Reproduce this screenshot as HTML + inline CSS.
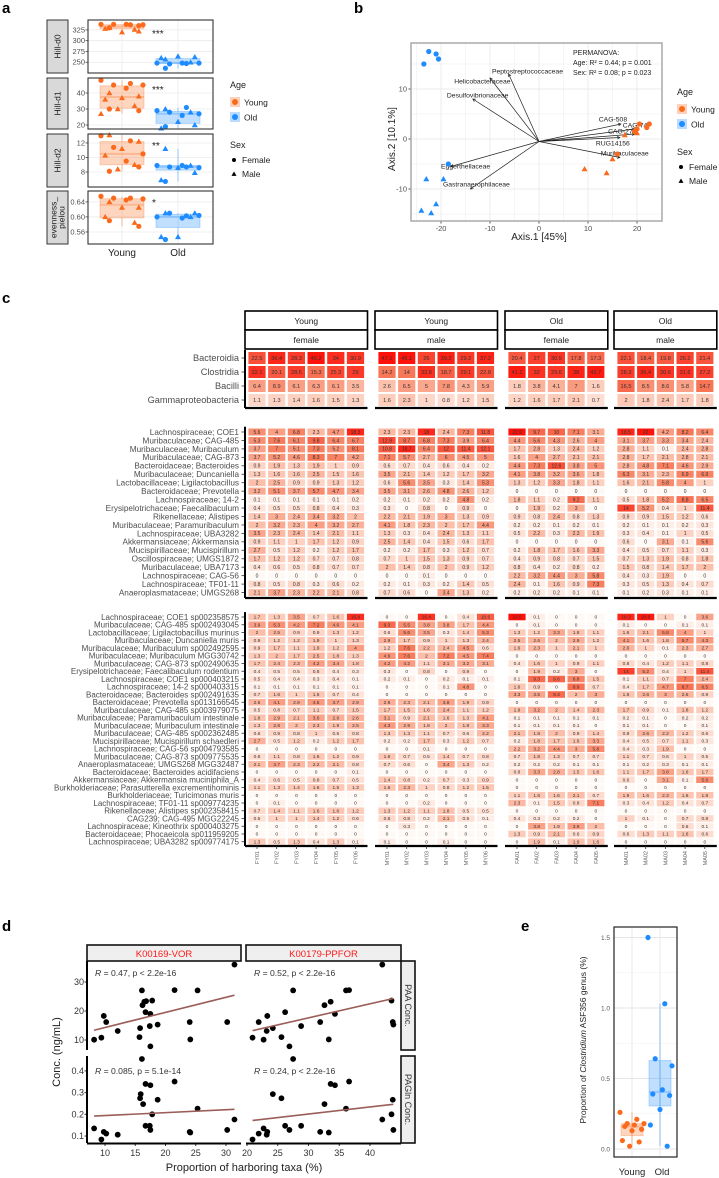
<!DOCTYPE html>
<html><head><meta charset="utf-8">
<style>
html,body{margin:0;padding:0;background:#fff;}
svg{display:block;font-family:"Liberation Sans",Arial,sans-serif;}
</style></head>
<body>
<svg id="fig" width="719" height="1178" viewBox="0 0 719 1178" xmlns="http://www.w3.org/2000/svg">
<rect x="0" y="0" width="719" height="1178" fill="#fff"/>
<text x="2" y="13" font-size="15" font-weight="bold">a</text>
<text x="354" y="13" font-size="15" font-weight="bold">b</text>
<text x="2" y="303" font-size="15" font-weight="bold">c</text>
<text x="2" y="931" font-size="15" font-weight="bold">d</text>
<text x="521" y="931" font-size="15" font-weight="bold">e</text>
</svg>
<script>
const NS='http://www.w3.org/2000/svg';
const svg=document.getElementById('fig');
function mk(tag,attrs,parent){const e=document.createElementNS(NS,tag);for(const k in attrs)e.setAttribute(k,attrs[k]);(parent||svg).appendChild(e);return e;}
function txt(x,y,s,attrs,parent){const e=mk('text',Object.assign({x:x,y:y},attrs||{}),parent);e.textContent=s;return e;}
const OR='#fb6a1c', BL='#1e8cff';
function tri(x,y,s,fill,parent){return mk('polygon',{points:(x)+','+(y-s)+' '+(x-s)+','+(y+s*0.75)+' '+(x+s)+','+(y+s*0.75),fill:fill},parent);}
function jit(i){return (((i*7)%11)/10-0.5);}
function quant(arr,p){const s=arr.slice().sort((a,b)=>a-b);const h=(s.length-1)*p;const lo=Math.floor(h);return s[lo]+(h-lo)*((s[Math.min(lo+1,s.length-1)])-s[lo]);}

/* ================= PANEL A data ================= */
const aFacetNames=['Hill-d0','Hill-d1','Hill-d2','evenness_\npielou'];
const aTicks=[[250,275,300,325],[20,30,40],[8,10,12],[0.56,0.60,0.64]];
const aTickLabels=[['250','275','300','325'],['20','30','40'],['8','10','12'],['0.56','0.60','0.64']];
const aStars=['***','***','**','*'];
const d0YoungF=[338,337,338,337,338,330,335], d0YoungM=[330,322,320,328,326], d0OldF=[248,247,246,248,248,236], d0OldM=[257,262,264,260,250];
const d1YoungF=[48,46,45,45,43,30,29], d1YoungM=[40,38,37,36,32,30,27], d1OldF=[29,31,28,27,26,19], d1OldM=[30,20,22,18,28];
const d2YoungF=[13,12.3,11.4,10.5,9.5,8.1,8.7], d2YoungM=[13.1,12.2,11.2,10.3,9,8.4], d2OldF=[8.9,8.7,8.7,8.6,8.9,6.7], d2OldM=[11.2,7.9,8.6,6.9,8.9];
const evYoungF=[0.655,0.65,0.65,0.648,0.645,0.59,0.575], evYoungM=[0.64,0.625,0.625,0.60,0.585], evOldF=[0.600,0.603,0.61,0.604,0.597,0.54], evOldM=[0.61,0.61,0.547,0.547,0.60];
const aData=[[d0YoungF,d0YoungM,d0OldF,d0OldM],[d1YoungF,d1YoungM,d1OldF,d1OldM],[d2YoungF,d2YoungM,d2OldF,d2OldM],[evYoungF,evYoungM,evOldF,evOldM]];
const aTop=[20,78,134,191], aBot=[73,129,187,244];
const aDomain=[[225,348],[17.5,49.4],[5.93,13.24],[0.528,0.669]];
(function(){
  const L=88,R=213, cx=[122,178];
  for(let f=0;f<4;f++){
    const g=mk('g',{});
    
    
    const t=aTop[f],b=aBot[f],dm=aDomain[f];
    const ys=v=>b-(v-dm[0])/(dm[1]-dm[0])*(b-t);
    mk('rect',{x:L,y:t,width:R-L,height:b-t,fill:'#fff'},g);
    aTicks[f].forEach((v,i)=>{
      mk('line',{x1:L,x2:R,y1:ys(v),y2:ys(v),stroke:'#ebebeb','stroke-width':0.8},g);
      const lb=txt(85,ys(v)+2.5,aTickLabels[f][i],{'font-size':7.5,fill:'#4d4d4d','text-anchor':'end'},g);
      
      mk('line',{x1:85.5,x2:L,y1:ys(v),y2:ys(v),stroke:'#333','stroke-width':0.7},g);
    });
    cx.forEach(x=>mk('line',{x1:x,x2:x,y1:t,y2:b,stroke:'#ebebeb','stroke-width':0.8},g));
    const st=mk('rect',{x:47,y:t,width:21,height:b-t,fill:'#d9d9d9',stroke:'#333','stroke-width':1},g);
    
    const parts=aFacetNames[f].split('\n');
    const midY=(t+b)/2;
    parts.forEach((p,pi)=>{
      const off=parts.length===1?3:(pi===0?-1:7);
      const s=txt(57.5+off,midY,p,{'font-size':8.5,fill:'#1a1a1a','text-anchor':'middle',transform:'rotate(-90 '+(57.5+off)+' '+midY+')'},g);
      
    });
    for(let grp=0;grp<2;grp++){
      const all=aData[f][grp*2].concat(aData[f][grp*2+1]);
      const col=grp===0?OR:BL, fill=grp===0?'rgba(251,106,28,0.28)':'rgba(30,140,255,0.28)';
      const q1=quant(all,0.25),q2=quant(all,0.5),q3=quant(all,0.75);
      const bx=mk('rect',{x:cx[grp]-22,y:ys(q3),width:44,height:ys(q1)-ys(q3),fill:fill,stroke:fill,'stroke-width':1},g);
      
      mk('line',{x1:cx[grp]-22,x2:cx[grp]+22,y1:ys(q2),y2:ys(q2),stroke:fill,'stroke-width':2},g);
      mk('line',{x1:cx[grp],x2:cx[grp],y1:ys(Math.max(...all)),y2:ys(q3),stroke:fill,'stroke-width':1.5},g);
      mk('line',{x1:cx[grp],x2:cx[grp],y1:ys(q1),y2:ys(Math.min(...all)),stroke:fill,'stroke-width':1.5},g);
      [0,1].forEach(sx=>{
        aData[f][grp*2+sx].forEach((v,i)=>{
          const x=cx[grp]+jit(i+sx*5)*42;
          let p;
          if(sx===0){p=mk('circle',{cx:x,cy:ys(v),r:2.6,fill:col},g);}
          else{p=tri(x,ys(v),3,col,g);}
          
        });
      });
    }
    const star=txt(152,t+ (f===0?17:15),aStars[f],{'font-size':10,fill:'#222'},g);
    
    mk('rect',{x:L,y:t,width:R-L,height:b-t,fill:'none',stroke:'#333','stroke-width':1.1},g);
  }
  const xl1=txt(122,256,'Young',{'font-size':10,'text-anchor':'middle',fill:'#222'});
  
  const xl2=txt(178,256,'Old',{'font-size':10,'text-anchor':'middle',fill:'#222'});
  
})();

/* legends a & b */
function legend(x,name){
  const g=mk('g',{});
  
  
  return g;
}
(function(){
  [[230,88,'legend-a'],[677,95,'legend-b']].forEach(([x,y,n])=>{
    const g=legend(x,n);
    txt(x,y,'Age',{'font-size':9,fill:'#222'},g);
    [['Young',OR,'rgba(251,106,28,0.3)'],['Old',BL,'rgba(30,140,255,0.3)']].forEach((k,i)=>{
      const yy=y+15+i*15;
      const r=mk('rect',{x:x,y:yy-6,width:10,height:10,fill:k[2]},g);
      
      mk('circle',{cx:x+5,cy:yy-1,r:3,fill:k[1]},g);
      txt(x+14,yy+2.5,k[0],{'font-size':8.5,fill:'#222'},g);
    });
    txt(x,y+60,'Sex',{'font-size':9,fill:'#222'},g);
    mk('circle',{cx:x+4,cy:y+72,r:2,fill:'#000'},g);
    txt(x+12,y+75,'Female',{'font-size':8.5,fill:'#222'},g);
    tri(x+4,y+86,2.5,'#000',g);
    txt(x+12,y+89,'Male',{'font-size':8.5,fill:'#222'},g);
  });
})();

/* ================= PANEL B ================= */
const bOldF=[[-22.5,17.5],[-21,17],[-20.5,16],[-23.5,15],[-18.5,-5]];
const bOldM=[[-23,-8],[-19.5,-8],[-21,-13],[-24,-14.3],[-22,-14.8]];
const bYoungF=[[20.5,3],[22.5,3],[22,2.3],[20,2],[16,-3],[19.5,1.5]];
const bYoungM=[[17.5,0.8],[20,1.2],[15,-4],[9.3,-6],[13.8,-6.8]];
const bArrowNames=['Peptostreptococcaceae','Helicobacteraceae','Desulfovibrionaceae','CAG-508','CAG-74','CAG-272','RUG14156','Muribaculaceae','Eggerthellaceae','Gastranaerophilaceae'];
const bArrowEnd=[[-6.2,13],[-10,12.2],[-13.5,8],[16.7,3],[19.5,2],[19.5,1],[16.5,0.3],[16.5,-3.7],[-18,-5.5],[-14,-10]];
const bLabelPos=[[-9.6,13.6],[-17.3,11.6],[-18.8,8.8],[12.2,4],[17.1,2.8],[14.1,1.6],[11.6,-0.8],[12.6,-2.8],[-20,-5.4],[-19.6,-9]];
const bXTicks=[-20,-10,0,10,20], bYTicks=[-10,0,10];
(function(){
  const g=mk('g',{});
  
  
  const xs=v=>539+4.9*v, ys=v=>139-5*v;
  const L=411,R=662,T=43,B=221;
  mk('rect',{x:L,y:T,width:R-L,height:B-T,fill:'#fff'},g);
  for(let v=-25;v<=25;v+=5){const x=xs(v);if(x>L&&x<R)mk('line',{x1:x,x2:x,y1:T,y2:B,stroke:'#ebebeb','stroke-width':bXTicks.includes(v)?0.9:0.5},g);}
  for(let v=-15;v<=15;v+=5){const y=ys(v);if(y>T&&y<B)mk('line',{x1:L,x2:R,y1:y,y2:y,stroke:'#ebebeb','stroke-width':bYTicks.includes(v)?0.9:0.5},g);}
  bXTicks.forEach(v=>{const l=txt(xs(v),231,String(v),{'font-size':7.5,fill:'#4d4d4d','text-anchor':'middle'},g);mk('line',{x1:xs(v),x2:xs(v),y1:B,y2:B+2.5,stroke:'#555'},g);});
  bYTicks.forEach(v=>{const l=txt(407,ys(v)+2.5,String(v),{'font-size':7.5,fill:'#4d4d4d','text-anchor':'end'},g);mk('line',{x1:L-2.5,x2:L,y1:ys(v),y2:ys(v),stroke:'#555'},g);});
  const xt=txt(539,240,'Axis.1   [45%]',{'font-size':10,fill:'#222','text-anchor':'middle'},g);
  
  const yt=txt(395,139,'Axis.2   [10.1%]',{'font-size':10,fill:'#222','text-anchor':'middle',transform:'rotate(-90 395 139)'},g);
  
  const ox=xs(0),oy=ys(-0.5);
  bArrowEnd.forEach((e,i)=>{
    const x2=xs(e[0]),y2=ys(e[1]);
    const ln=mk('line',{x1:ox,y1:oy,x2:x2,y2:y2,stroke:'#222','stroke-width':0.7},g);
    
    const a=Math.atan2(y2-oy,x2-ox),h=3;
    mk('polyline',{points:(x2-h*Math.cos(a-0.5))+','+(y2-h*Math.sin(a-0.5))+' '+x2+','+y2+' '+(x2-h*Math.cos(a+0.5))+','+(y2-h*Math.sin(a+0.5)),fill:'none',stroke:'#222','stroke-width':0.7},g);
    const lb=txt(xs(bLabelPos[i][0]),ys(bLabelPos[i][1])+2.5,bArrowNames[i],{'font-size':6.8,fill:'#222'},g);
    
  });
  bOldF.forEach(p=>{const c=mk('circle',{cx:xs(p[0]),cy:ys(p[1]),r:2.6,fill:BL},g);});
  bOldM.forEach(p=>{const c=tri(xs(p[0]),ys(p[1]),3,BL,g);});
  bYoungF.forEach(p=>{const c=mk('circle',{cx:xs(p[0]),cy:ys(p[1]),r:2.6,fill:OR},g);});
  bYoungM.forEach(p=>{const c=tri(xs(p[0]),ys(p[1]),3,OR,g);});
  ['PERMANOVA:','Age: R\u00b2 = 0.44; p = 0.001','Sex: R\u00b2 = 0.08; p = 0.023'].forEach((s,i)=>{const t=txt(573,55+i*10,s,{'font-size':7,fill:'#222'},g);});
  mk('rect',{x:L,y:T,width:R-L,height:B-T,fill:'none',stroke:'#aaa','stroke-width':1.5},g);
})();

/* ================= PANEL C heatmap ================= */
const hmGroupAge=['Young','Young','Old','Old'];
const hmGroupSex=['female','male','female','male'];
const hmGroupN=[6,6,5,5];
const hmSamples=['FY01','FY02','FY03','FY04','FY05','FY06','MY01','MY02','MY03','MY04','MY05','MY06','FA01','FA02','FA03','FA04','FA05','MA01','MA02','MA03','MA04','MA05'];
const hmTopLabels=['Bacteroidia','Clostridia','Bacilli','Gammaproteobacteria'];
const hmTopValues=[
[22.5,36.4,28.3,45.2,34,30.9,47.1,45.1,26,39.2,29.2,37.2,20.4,27,30.5,17.8,17.3,22.1,18.4,19.8,26.2,21.4],
[32.1,20.1,28.5,15.3,25.3,29,14.2,14,32.8,18.7,29.1,22.8,41.1,32,29.6,38,42.7,28.3,36.4,30.6,31.6,27.2],
[6.4,8.9,6.1,6.3,6.1,3.5,2.6,6.5,5,7.8,4.3,5.9,1.8,3.8,4.1,7,1.6,16.5,8.5,8.6,5.8,14.7],
[1.1,1.3,1.4,1.6,1.5,1.3,1.6,2.3,1,0.8,1.2,1.5,1.2,1.6,1.7,2.1,0.7,2,1.8,2.4,1.7,1.8]];
const hmGenusLabels=['Lachnospiraceae; COE1','Muribaculaceae; CAG-485','Muribaculaceae; Muribaculum','Muribaculaceae; CAG-873','Bacteroidaceae; Bacteroides','Muribaculaceae; Duncaniella','Lactobacillaceae; Ligilactobacillus','Bacteroidaceae; Prevotella','Lachnospiraceae; 14-2','Erysipelotrichaceae; Faecalibaculum','Rikenellaceae; Alistipes','Muribaculaceae; Paramuribaculum','Lachnospiraceae; UBA3282','Akkermansiaceae; Akkermansia','Mucispirillaceae; Mucispirillum','Oscillospiraceae; UMGS1872','Muribaculaceae; UBA7173','Lachnospiraceae; CAG-56','Lachnospiraceae; TF01-11','Anaeroplasmataceae; UMGS268'];
const hmGenusValues=[
[5.6,4,6.8,2.3,4.7,18.3,2.3,2.3,18,2.4,7.3,11.8,22.9,9.7,10,7.1,3.1,18.5,22,4.2,8.2,6.4],
[5.3,7.6,6.1,9.8,6.4,6.7,12.9,8.7,6.8,7.3,3.9,6.4,4.4,5.6,4.3,2.6,4,3.1,3.7,3.3,3.4,2.4],
[3.7,7,5.1,7.3,5.2,8.1,10.8,18.7,6.4,12,11.4,12.1,1.7,2.8,1.3,2.4,1.2,2.8,1.1,0.1,2.4,2.8],
[3.7,5.2,4.6,8.3,7,4.2,7.1,5.7,2.7,6,4.5,5,1.6,4,2.7,2.1,2.1,2.8,1.7,2.1,2.8,2.1],
[0.9,1.9,1.3,1.9,1,0.9,0.6,0.7,0.4,0.6,0.4,0.2,4.4,7.3,12.6,3.8,5,2.8,4.8,7.1,4.6,2.9],
[1.3,1.6,1.6,2.5,1.5,1.6,3.5,2.1,1.4,1.2,1.7,3.2,4.1,3.8,3.2,3.6,1.8,6.3,3.1,2.3,6.9,6.9],
[2,2.5,0.9,0.9,1.3,1.2,0.6,5.6,3.5,0.3,1.4,5.3,1.3,1.2,3.3,1.8,1.1,1.6,2.1,5.8,4,1],
[3.2,5.1,3.7,5.7,4.7,3.4,3.5,3.1,2.6,4.8,2.6,1.2,0,0,0,0,0,0,0,0,0,0],
[0.1,0.1,0.1,0.1,0.1,0.2,0.2,0.1,0.2,0.2,4.8,0.2,1.8,1.1,0.2,9.2,1.1,0.5,1.8,5.2,8.8,6.5],
[0.4,0.5,0.5,0.8,0.4,0.3,0.3,0,0.8,0,0.9,0,0,1.9,0.2,3,0,14,5.2,0.4,1,11.4],
[1.4,3,2.4,3.4,3.2,2,2.2,2.1,1.9,3,1.3,0.9,0.9,0.8,2.4,0.8,1.3,0.9,0.9,1.5,1.2,0.6],
[2,3.2,2.3,4,3.2,2.7,4.1,1.8,2.3,2,1.7,4.4,0.2,0.2,0.1,0.2,0.1,0.2,0.1,0.1,0.2,0.3],
[3.5,2.3,2.4,1.4,2.1,1.1,1.3,0.3,0.4,2.4,1.3,1.1,0.5,2.2,0.3,2.3,1.9,0.3,0.4,0.1,1,0.5],
[0.9,1.1,1,1.7,1.2,0.9,2.5,1.4,0.4,1.5,0.6,1.7,0,0,0,0,0,0.6,0,3.1,0.1,5.6],
[2.7,0.5,1.2,0.2,1.2,1.7,0.2,0.2,1.7,0.3,1.2,0.7,0.2,1.8,1.7,1.6,3.3,0.4,0.5,0.7,1.1,0.3],
[1.7,1.2,1.2,0.7,0.7,0.8,0.7,1,1.5,1.3,0.9,0.7,0.4,0.9,0.8,0.7,1.5,0.7,1.3,1.9,0.8,1.8],
[0.4,0.6,0.5,0.8,0.7,0.7,2,1.4,0.8,2,0.9,1.2,0.8,0.4,0.2,0.8,0.2,1.5,0.8,1.4,1.7,2],
[0,0,0,0,0,0,0,0,0.1,0,0,0,2.2,3.2,4.4,3,5.8,0.4,0.3,1.9,0,0],
[0.8,0.5,0.8,0.3,0.6,0.2,0.2,0.1,0.3,0.2,1.4,0.5,2.4,0.1,1.6,0.9,7.3,0.3,0.5,1.3,0.4,0.7],
[2.1,3.7,2.3,2.2,2.1,0.8,0.7,0.6,0,3.4,1.3,0.2,0.2,0.2,0.2,0.1,0.1,0.1,0.2,0.3,0.1,0.1]];
const hmSpeciesLabels=['Lachnospiraceae; COE1 sp002358575','Muribaculaceae; CAG-485 sp002493045','Lactobacillaceae; Ligilactobacillus murinus','Muribaculaceae; Duncaniella muris','Muribaculaceae; Muribaculum sp002492595','Muribaculaceae; Muribaculum MGG30742','Muribaculaceae; CAG-873 sp002490635','Erysipelotrichaceae; Faecalibaculum rodentium','Lachnospiraceae; COE1 sp000403215','Lachnospiraceae; 14-2 sp000403315','Bacteroidaceae; Bacteroides sp002491635','Bacteroidaceae; Prevotella sp013166545','Muribaculaceae; CAG-485 sp003979075','Muribaculaceae; Paramuribaculum intestinale','Muribaculaceae; Muribaculum intestinale','Muribaculaceae; CAG-485 sp002362485','Mucispirillaceae; Mucispirillum schaedleri','Lachnospiraceae; CAG-56 sp004793585','Muribaculaceae; CAG-873 sp009775535','Anaeroplasmataceae; UMGS268 MGG32487','Bacteroidaceae; Bacteroides acidifaciens','Akkermansiaceae; Akkermansia muciniphila_A','Burkholderiaceae; Parasutterella excrementihominis','Burkholderiaceae; Turicimonas muris','Lachnospiraceae; TF01-11 sp009774235','Rikenellaceae; Alistipes sp002358415','CAG239; CAG-495 MGG22245','Lachnospiraceae; Kineothrix sp000403275','Bacteroidaceae; Phocaeicola sp011959205','Lachnospiraceae; UBA3282 sp009774175'];
const hmSpeciesValues=[
[1.7,1.3,3.5,0.7,1.6,16.9,0,0,16.4,0,0.4,10.6,22.5,0.1,0,0,0,18.3,20.6,1,0,3.6],
[3.9,5.3,4.2,7.2,4.6,4.1,9.3,5.5,3.8,3.8,1.7,4.4,0,0.1,0,0,0,0.1,0,0,0.1,0.1],
[2,2.5,0.9,0.9,1.3,1.2,0.6,5.6,3.5,0.3,1.4,5.3,1.3,1.2,3.3,1.8,1.1,1.6,2.1,5.8,4,1],
[0.9,1.2,1.2,1.9,1,1.3,2.9,1.7,0.9,1,1.3,2.4,2.5,2.6,2,2.9,1.2,4.1,1.6,1.8,5.7,4.3],
[0.9,1.7,1.1,1.9,1.2,4,1.2,7.6,2.2,2.4,4.5,0.6,1.6,2.3,1,2.1,1,2.6,1,0.1,2.3,2.7],
[1.3,2,1.7,2.5,1.8,1.3,4.9,7.6,2,7.2,4.5,7.4,0,0,0,0,0,0,0,0,0,0],
[1.7,2.4,2.3,4.2,3.4,1.8,4.2,4.2,1.1,3.1,3.2,3.1,0.4,1.6,1,0.9,1.1,0.8,0.4,1.2,1.1,0.8],
[0.4,0.5,0.5,0.8,0.4,0.3,0.3,0,0.8,0,0.9,0,0,1.9,0.2,3,0,14,5.2,0.4,1,11.4],
[0.5,0.4,0.4,0.3,0.4,0.1,0.2,0.1,0,0.2,0.1,0.1,0.1,9.3,9.6,6.8,1.5,0.1,1.1,0.7,7,2.4],
[0.1,0.1,0.1,0.1,0.1,0.1,0,0,0,0.1,4.8,0,1.6,0.9,0,8.9,0.7,0.4,1.7,4.7,8.7,6.5],
[0.7,1.6,1,1.6,0.7,0.4,0,0,0,0,0,0,3.3,3.5,9.3,2,3,1.6,2.6,3,2.5,0.9],
[2.6,4.1,2.9,4.5,3.7,2.9,2.9,2.3,2.1,3.8,1.9,0.9,0,0,0,0,0,0,0,0,0,0],
[0.5,0.8,0.7,1.1,0.7,1.5,1.7,1.5,1.6,2.4,1.1,1.2,1.9,3.2,2,1.4,2.3,1.7,0.9,0.1,1.8,1.2],
[1.8,2.9,2.1,3.6,2.9,2.6,3.1,0.9,2.1,1.6,1.3,4.1,0.1,0.1,0.1,0.1,0.1,0.2,0.1,0,0.2,0.2],
[1.3,2.8,2,2.3,1.9,2.5,4.3,2.9,1.8,2,1.8,3.3,0.1,0.1,0.1,0.1,0,0.1,0.1,0,0,0.1],
[0.6,0.9,0.8,1,0.6,0.8,1.3,1.3,1.1,0.7,0.6,2.2,2.1,1.8,2,0.9,1.4,0.8,2.6,2.2,1.2,0.6],
[2.7,0.5,1.2,0.2,1.2,1.7,0.2,0.2,1.7,0.3,1.2,0.7,0.2,1.8,1.7,1.6,3.3,0.4,0.5,0.7,1.1,0.3],
[0,0,0,0,0,0,0,0,0.1,0,0,0,2.2,3.2,4.4,3,5.8,0.4,0.3,1.9,0,0],
[0.6,1.1,0.8,1.6,1.2,0.9,1.6,0.7,0.5,1.4,0.7,0.8,0.7,1.8,1.3,0.7,0.7,1.1,0.7,0.6,1,0.5],
[2.1,3.7,2.3,2.2,2.1,0.8,0.7,0.6,0,3.4,1.3,0.2,0.2,0.2,0.2,0.1,0.1,0.1,0.2,0.3,0.1,0.1],
[0,0,0,0,0,0.1,0,0,0,0,0,0,0.8,3.3,2.8,1.5,1.6,1.1,1.7,3.8,1.6,1.7],
[0.4,0.6,0.5,0.8,0.7,0.5,1.4,0.8,0.2,0.7,0.3,0.9,0,0,0,0,0,0.6,0,3.1,0.1,5.6],
[1.1,1.3,1.4,1.6,1.5,1.3,1.6,2.3,1,0.8,1.2,1.5,0,0,0,0,0,0,0,0,0,0],
[0,0,0,0,0,0,0,0,0,0,0,0,1.1,1.6,1.6,2.1,0.7,1.9,1.6,2.3,1.6,1.8],
[0,0.1,0,0,0,0,0,0,0.2,0,0,0,2.3,0.1,1.5,0.8,7.1,0.3,0.4,1.2,0.4,0.7],
[0.7,1.4,1.1,1.6,1.6,1.2,1.3,1.2,1.1,1.8,0.5,0.5,0,0,0,0,0,0,0,0,0,0],
[0.5,1,1,1.4,1.2,0.6,0.8,0.8,0.2,2.1,0.5,0.1,0.4,0.3,0.2,0.2,0,1,0.1,0,0.7,0.8],
[0,0,0,0,0,0,0,0.3,0,0,0,0,0,3.8,1.9,3.9,2,0,0,0,0.6,0.1],
[0,0,0,0,0,0,0,0,0,0,0,0,1.3,0.9,2.1,0.6,0.9,0.6,1.3,1.1,1.6,0.6],
[1.3,0.5,1.3,0.4,1.3,0.1,0.1,0,0,0.1,0,0,0,1.9,0.1,1.9,1.6,0,0,0,0,0]];
(function(){
  const groupLeft=[245,375,505,614];
  const pitch=19.7;
  const colX=[];
  hmGroupN.forEach((n,g)=>{for(let i=0;i<n;i++)colX.push(groupLeft[g]+12+pitch*i);});
  const groupRight=hmGroupN.map((n,g)=>groupLeft[g]+24+pitch*(n-1));
  const stops=[[0,[255,243,237]],[0.35,[252,190,168]],[0.7,[247,120,88]],[1,[255,16,8]]];
  function heat(v,max){
    if(v<=0)return '#fff9f6';
    const t=Math.min(1,Math.log(1+v)/Math.log(1+max));
    for(let i=1;i<stops.length;i++){if(t<=stops[i][0]){const a=stops[i-1],b=stops[i];const u=(t-a[0])/(b[0]-a[0]);return 'rgb('+a[1].map((c,k)=>Math.round(c+(b[1][k]-c)*u)).join(',')+')';}}
    return 'rgb(255,16,8)';
  }
  // strips
  hmGroupN.forEach((n,g)=>{
    const r1=mk('rect',{x:groupLeft[g],y:311,width:groupRight[g]-groupLeft[g],height:19,fill:'#fff',stroke:'#000','stroke-width':1.6});
    
    txt((groupLeft[g]+groupRight[g])/2,324,hmGroupAge[g],{'font-size':8.5,'text-anchor':'middle',fill:'#222'});
    const r2=mk('rect',{x:groupLeft[g],y:330,width:groupRight[g]-groupLeft[g],height:19,fill:'#fff',stroke:'#000','stroke-width':1.6});
    
    txt((groupLeft[g]+groupRight[g])/2,343,hmGroupSex[g],{'font-size':8.5,'text-anchor':'middle',fill:'#222'});
  });
  const blocks=[
    {name:'heatmap-class',labels:hmTopLabels,vals:hmTopValues,y0:358,step:14,h:12,fs:5.6,lfs:9.2,line:408},
    {name:'heatmap-genus',labels:hmGenusLabels,vals:hmGenusValues,y0:432,step:8.45,h:7,fs:5,lfs:8.2,line:598},
    {name:'heatmap-species',labels:hmSpeciesLabels,vals:hmSpeciesValues,y0:617,step:7.75,h:6.6,fs:4.8,lfs:8,line:846}];
  blocks.forEach(bk=>{
    const g=mk('g',{});
    
    
    let mx=0;bk.vals.forEach(r=>r.forEach(v=>{if(v>mx)mx=v;}));
    bk.labels.forEach((lab,ri)=>{
      const y=bk.y0+ri*bk.step;
      const lt=txt(239,y+bk.lfs*0.35,lab,{'font-size':bk.lfs,fill:'#4d4d4d','text-anchor':'end'},g);
      
      mk('line',{x1:241.5,x2:245,y1:y,y2:y,stroke:'#333','stroke-width':0.8},g);
      bk.vals[ri].forEach((v,ci)=>{
        const c=mk('rect',{x:colX[ci]-8.6,y:y-bk.h/2,width:17.2,height:bk.h,fill:heat(v,mx)},g);
        
        const tv=txt(colX[ci],y+bk.fs*0.36,String(v),{'font-size':bk.fs,'text-anchor':'middle',fill:'#333'},g);
        
      });
    });
    mk('line',{x1:245,x2:245,y1:bk.y0-bk.step/2-1,y2:bk.line,stroke:'#000','stroke-width':2},g);
    hmGroupN.forEach((n,gi)=>{
      const bl=mk('line',{x1:groupLeft[gi],x2:groupRight[gi],y1:bk.line,y2:bk.line,stroke:'#000','stroke-width':2.2},g);
      
    });
  });
  hmSamples.forEach((s,ci)=>{
    mk('line',{x1:colX[ci],x2:colX[ci],y1:846,y2:849,stroke:'#333','stroke-width':0.8});
    const t=txt(colX[ci]+2,851,s,{'font-size':5.5,fill:'#666','text-anchor':'end',transform:'rotate(-90 '+(colX[ci]+2)+' 851)'});
    
  });
})();

/* ================= PANEL D ================= */
const dVorX=[8.2,9.4,9.8,10.2,12.1,15.8,15.7,16.1,16.2,16.5,16.7,16.8,17.5,17.4,17.5,17.8,18.7,21.5,24.0,24.1,25.3,30.2,31.4];
const dVorPAA=[10.1,10.8,18.3,16.2,13.1,14.1,11.0,27.1,22.0,23.2,19.6,23.4,19.0,14.8,7.8,23.6,15.3,27.2,16.2,10.2,27.1,16.2,36.0];
const dVorPAGlnX=[8.2,9.4,9.8,10.2,12.1,16.1,15.8,15.9,16.3,16.7,17.5,16.7,17.4,17.5,17.8,18.7,21.5,24.0,25.3,30.2,31.4,24.1];
const dVorPAGln=[0.135,0.084,0.119,0.111,0.106,0.455,0.274,0.293,0.247,0.34,0.334,0.147,0.147,0.128,0.2,0.267,0.351,0.119,0.226,0.128,0.176,0.116];
const dPpfX=[20.9,21.9,22.7,23.3,23.2,24.2,25.6,26.2,26.9,27.5,28.8,31.9,32.6,33.3,33.6,34.3,36.1,36.6,42.0,43.5,43.7,43.8];
const dPpfPAA=[10.8,16.2,10.1,18.3,13.1,14.1,11.0,19.6,7.8,27.1,14.8,16.2,22.0,10.2,23.2,19.0,27.1,27.2,36.0,23.6,16.2,15.3];
const dPpfPAGln=[0.084,0.111,0.135,0.119,0.106,0.293,0.274,0.147,0.128,0.455,0.147,0.119,0.247,0.116,0.34,0.334,0.226,0.351,0.176,0.2,0.267,0.128];
const dRText=['R = 0.47, p < 2.2e-16','R = 0.52, p < 2.2e-16','R = 0.085, p = 5.1e-14','R = 0.24, p < 2.2e-16'];
const dLeftXTicks=[10,15,20,25,30], dRightXTicks=[20,25,30,35,40];
const dTopYTicks=[10,20,30], dBotYTicks=[0.1,0.2,0.3,0.4];
(function(){
  const xsL=v=>105+(v-10)*6.05, xsR=v=>247+(v-20)*6.15;
  const ysT=v=>982-(v-30)*2.9, ysB=v=>1136-(v-0.1)*217;
  const cols=[{L:87,R:241,xs:xsL,title:'K00169-VOR',ticks:dLeftXTicks},{L:246,R:401,xs:xsR,title:'K00179-PPFOR',ticks:dRightXTicks}];
  const rows=[{T:961,B:1050,ys:ysT,title:'PAA Conc.',ticks:dTopYTicks},{T:1056,B:1143,ys:ysB,title:'PAGln Conc.',ticks:dBotYTicks}];
  const series=[[dVorX,dVorPAA],[dPpfX,dPpfPAA],[dVorPAGlnX,dVorPAGln],[dPpfX,dPpfPAGln]];
  cols.forEach((c,ci)=>{
    const s=mk('rect',{x:c.L,y:945,width:c.R-c.L,height:16,fill:'#efefef',stroke:'#111','stroke-width':1.6});
    
    txt((c.L+c.R)/2,957,c.title,{'font-size':9.5,fill:'#ff1a1a','text-anchor':'middle'});
    c.ticks.forEach(v=>{
      const t=txt(c.xs(v),1156,String(v),{'font-size':9,fill:'#333','text-anchor':'middle'});
      
      mk('line',{x1:c.xs(v),x2:c.xs(v),y1:1143,y2:1146,stroke:'#333'});
    });
    const ax=mk('line',{x1:c.L,x2:c.R,y1:1143.5,y2:1143.5,stroke:'#000','stroke-width':2});
    
  });
  rows.forEach((r,ri)=>{
    const s=mk('rect',{x:401,y:r.T,width:14,height:r.B-r.T,fill:'#efefef',stroke:'#111','stroke-width':1.6});
    
    const my=(r.T+r.B)/2;
    txt(405,my,r.title,{'font-size':9,fill:'#333','text-anchor':'middle',transform:'rotate(90 405 '+my+')'});
    r.ticks.forEach(v=>{
      const t=txt(84,r.ys(v)+3,String(v),{'font-size':9,fill:'#333','text-anchor':'end'});
      
      mk('line',{x1:84.5,x2:87,y1:r.ys(v),y2:r.ys(v),stroke:'#333'});
    });
    const ay=mk('line',{x1:87,x2:87,y1:r.T,y2:r.B,stroke:'#000','stroke-width':2});
    
  });
  for(let ri=0;ri<2;ri++)for(let ci=0;ci<2;ci++){
    const idx=ri*2+ci, xv=series[idx][0], yv=series[idx][1], c=cols[ci], r=rows[ri];
    const g=mk('g',{});
    
    
    const n=xv.length;let mx=0,my=0;xv.forEach((v,i)=>{mx+=v;my+=yv[i];});mx/=n;my/=n;
    let sxy=0,sxx=0;xv.forEach((v,i)=>{sxy+=(v-mx)*(yv[i]-my);sxx+=(v-mx)*(v-mx);});
    const sl=sxy/sxx, ic=my-sl*mx, x0=Math.min(...xv), x1=Math.max(...xv);
    xv.forEach((v,i)=>{const p=mk('circle',{cx:c.xs(v),cy:r.ys(yv[i]),r:2.9,fill:'#000'},g);});
    const fl=mk('line',{x1:c.xs(x0),y1:r.ys(ic+sl*x0),x2:c.xs(x1),y2:r.ys(ic+sl*x1),stroke:'#9b5d58','stroke-width':1.6},g);
    
    const rt=mk('text',{x:c.L+8,y:r.T+(ri===0?15:18),'font-size':8.6,fill:'#333'},g);
    
    const it=document.createElementNS(NS,'tspan');it.setAttribute('font-style','italic');it.textContent='R';rt.appendChild(it);
    rt.appendChild(document.createTextNode(dRText[idx].slice(1)));
  }
  const xt=txt(244,1171,'Proportion of  harboring taxa (%)',{'font-size':11,fill:'#222','text-anchor':'middle'});
  
  const yt=txt(60,1052,'Conc. (ng/mL)',{'font-size':11,fill:'#222','text-anchor':'middle',transform:'rotate(-90 60 1052)'});
  
})();

/* ================= PANEL E ================= */
const eYoung=[0.26,0.21,0.18,0.18,0.17,0.16,0.14,0.13,0.06,0.05,0.02];
const eOld=[1.5,1.03,0.64,0.59,0.42,0.39,0.38,0.28,0.17,0.02];
const eTicks=[0,0.5,1.0,1.5], eTickLabels=['0.0','0.5','1.0','1.5'];
(function(){
  const g=mk('g',{});
  
  
  const L=614,R=677,T=927,B=1157, ys=v=>1149-141*v, cx=[632,660];
  mk('rect',{x:L,y:T,width:R-L,height:B-T,fill:'#fff'},g);
  [0.25,0.75,1.25].forEach(v=>mk('line',{x1:L,x2:R,y1:ys(v),y2:ys(v),stroke:'#f2f2f2','stroke-width':0.6},g));
  eTicks.forEach((v,i)=>{
    mk('line',{x1:L,x2:R,y1:ys(v),y2:ys(v),stroke:'#e6e6e6','stroke-width':0.9},g);
    const t=txt(610,ys(v)+2.3,eTickLabels[i],{'font-size':6.5,fill:'#555','text-anchor':'end'},g);
    
  });
  cx.forEach(x=>mk('line',{x1:x,x2:x,y1:T,y2:B,stroke:'#e6e6e6','stroke-width':0.9},g));
  [[eYoung,OR,'rgba(251,106,28,0.28)','young'],[eOld,BL,'rgba(30,140,255,0.28)','old']].forEach((s,k)=>{
    const d=s[0],q1=quant(d,0.25),q2=quant(d,0.5),q3=quant(d,0.75),iq=q3-q1;
    const hi=Math.max(...d.filter(v=>v<=q3+1.5*iq)), lo=Math.min(...d.filter(v=>v>=q1-1.5*iq));
    mk('line',{x1:cx[k],x2:cx[k],y1:ys(hi),y2:ys(lo),stroke:s[2],'stroke-width':1.6},g);
    const b=mk('rect',{x:cx[k]-11,y:ys(q3),width:22,height:ys(q1)-ys(q3),fill:s[2],stroke:s[2]},g);
    
    mk('line',{x1:cx[k]-11,x2:cx[k]+11,y1:ys(q2),y2:ys(q2),stroke:s[2],'stroke-width':2},g);
    d.forEach((v,i)=>{const p=mk('circle',{cx:cx[k]+jit(i)*24,cy:ys(v),r:2.6,fill:s[1]},g);});
  });
  mk('rect',{x:L,y:T,width:R-L,height:B-T,fill:'none',stroke:'#222','stroke-width':1.2},g);
  const xl1=txt(632,1175,'Young',{'font-size':9.5,fill:'#222','text-anchor':'middle'},g);
  
  const xl2=txt(662,1175,'Old',{'font-size':9.5,fill:'#222','text-anchor':'middle'},g);
  
  const yt=mk('text',{x:586,y:1040,'font-size':8.5,fill:'#222','text-anchor':'middle',transform:'rotate(-90 586 1040)'},g);
  
  yt.appendChild(document.createTextNode('Proportion of '));
  const it=document.createElementNS(NS,'tspan');it.setAttribute('font-style','italic');it.textContent='Clostridium';yt.appendChild(it);
  yt.appendChild(document.createTextNode(' ASF356 genus (%)'));
})();
</script>
</body></html>
